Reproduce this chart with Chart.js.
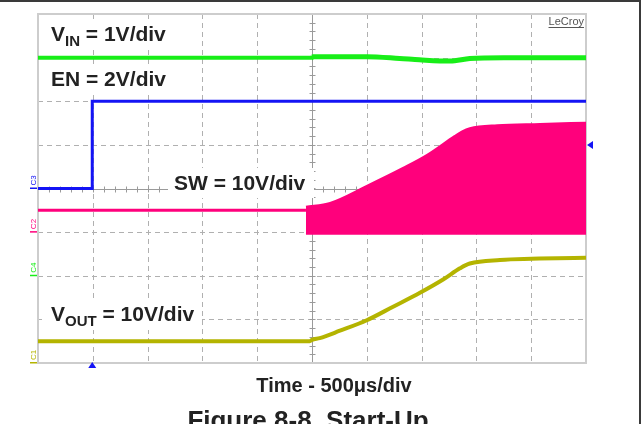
<!DOCTYPE html>
<html>
<head>
<meta charset="utf-8">
<script src="https://cdn.jsdelivr.net/npm/chart.js@4.4.1/dist/chart.umd.min.js"></script>
<style>
  body { margin: 0; background: #fff; }
  canvas { display: block; }
</style>
</head>
<body>
<canvas id="scope" width="642" height="424"></canvas>
<script>
// time in us (500us/div), amplitude in screen divisions (0 = bottom, 8 = top)
const vinT  = [0, 2500, 2510, 3000, 3300, 3480, 3760, 3940, 4250, 5000]
const vinV  = [7.0, 7.0, 7.02, 7.02, 6.98, 6.95, 6.92, 6.98, 7.0, 7.0]
const enT   = [0, 495, 495, 5000]
const enV   = [4.0, 4.0, 6.0, 6.0]
const swIdleT = [0, 2445]
const swIdleV = [3.5, 3.5]
const swT   = [2445, 2665, 3000, 3330, 3550, 3800, 3870, 3940, 4190, 4580, 5000]
const swTop = [3.58, 3.67, 4.06, 4.47, 4.77, 5.20, 5.31, 5.38, 5.45, 5.48, 5.51]
const swLow = [2.96, 2.96, 2.96, 2.96, 2.96, 2.96, 2.96, 2.96, 2.96, 2.96, 2.96]
const voutT = [0, 2480, 2500, 2570, 2755, 3000, 3240, 3485, 3700, 3850, 3940, 4215, 5000]
const voutV = [0.5, 0.5, 0.53, 0.57, 0.74, 0.98, 1.29, 1.61, 1.92, 2.17, 2.28, 2.36, 2.41]

const xTicks = [0, 500, 1000, 1500, 2000, 2500, 3000, 3500, 4000, 4500, 5000]
const yTicks = [0, 1, 2, 3, 4, 5, 6, 7, 8]

const pts = (t, v) => t.map((x, i) => ({x: x, y: v[i]}))
const trace = (data, col, w, extra) => Object.assign({
  data: data, borderColor: col, backgroundColor: col, borderWidth: w,
  pointRadius: 0, tension: 0, fill: false
}, extra || {})

const green = "#18ee18", blue = "#1414f5", pink = "#ff007c", olive = "#b4b400"
const bold = '"Liberation Sans", Arial, sans-serif'

const label = (ctx, x, y, main, sub, rest, size, box) => {
  ctx.save()
  if (box) { ctx.fillStyle = "#fff"; ctx.fillRect(box[0], box[1], box[2], box[3]) }
  ctx.fillStyle = "#222"
  ctx.textBaseline = "alphabetic"
  ctx.font = "bold " + size + "px " + bold
  ctx.fillText(main, x, y)
  let xx = x + ctx.measureText(main).width
  if (sub) {
    ctx.font = "bold " + Math.round(size * 0.7) + "px " + bold
    ctx.fillText(sub, xx, y + 5)
    xx += ctx.measureText(sub).width
    ctx.font = "bold " + size + "px " + bold
  }
  ctx.fillText(rest, xx, y)
  ctx.restore()
}

const scopeGrid = {
  id: "scopeGrid",
  beforeDatasetsDraw(chart) {
    const {ctx, chartArea: {left, right, top, bottom}, scales: {x, y}} = chart
    ctx.save()
    ctx.strokeStyle = "#b0b0b0"
    ctx.lineWidth = 1
    ctx.setLineDash([5, 4])
    xTicks.slice(1, -1).forEach(t => {
      const px = Math.round(x.getPixelForValue(t)) + 0.5
      ctx.beginPath(); ctx.moveTo(px, top); ctx.lineTo(px, bottom); ctx.stroke()
    })
    yTicks.slice(1, -1).forEach(t => {
      const py = Math.round(y.getPixelForValue(t)) + 0.5
      ctx.beginPath(); ctx.moveTo(left, py); ctx.lineTo(right, py); ctx.stroke()
    })
    ctx.setLineDash([])
    // centre axes with minor ticks
    ctx.strokeStyle = "#9a9a9a"
    const cx = Math.round(x.getPixelForValue(2500)) + 0.5
    const cy = Math.round(y.getPixelForValue(4)) + 0.5
    ctx.beginPath(); ctx.moveTo(cx, top); ctx.lineTo(cx, bottom); ctx.stroke()
    ctx.beginPath(); ctx.moveTo(left, cy); ctx.lineTo(right, cy); ctx.stroke()
    for (let t = 0; t <= 5000; t += 100) {
      const px = Math.round(x.getPixelForValue(t)) + 0.5
      ctx.beginPath(); ctx.moveTo(px, cy - 3); ctx.lineTo(px, cy + 3); ctx.stroke()
    }
    for (let v = 0; v <= 8; v += 0.2) {
      const py = Math.round(y.getPixelForValue(v)) + 0.5
      ctx.beginPath(); ctx.moveTo(cx - 3, py); ctx.lineTo(cx + 3, py); ctx.stroke()
    }
    // plot border
    ctx.strokeStyle = "#cdcdcd"
    ctx.lineWidth = 2
    ctx.strokeRect(left, top, right - left, bottom - top)

    label(ctx, 51, 41, "V", "IN", " = 1V/div", 21, [44, 20, 128, 28])
    label(ctx, 51, 86, "EN = 2V/div", "", "", 21, [44, 66, 126, 26])
    label(ctx, 174, 190, "SW = 10V/div", "", "", 21, [168, 168, 146, 30])
    label(ctx, 51, 321, "V", "OUT", " = 10V/div", 21, [42, 298, 160, 32])

    ctx.fillStyle = "#555"
    ctx.font = "11px " + bold
    ctx.textAlign = "right"
    ctx.fillText("LeCroy", right - 2, top + 11)
    ctx.fillRect(right - 2 - ctx.measureText("LeCroy").width, top + 13, ctx.measureText("LeCroy").width, 1)
    ctx.restore()
  },
  afterDraw(chart) {
    const {ctx, chartArea: {left, right, top, bottom}, scales: {x, y}} = chart
    ctx.save()
    // channel markers on the left edge
    const marks = [["C3", blue, 4], ["C2", pink, 3.0], ["C4", green, 2], ["C1", olive, 0]]
    ctx.font = "8px " + bold
    marks.forEach(m => {
      const py = y.getPixelForValue(m[2])
      ctx.fillStyle = m[1]
      ctx.fillRect(left - 8, py - 1, 7, 1.5)
      ctx.save()
      ctx.translate(left - 2, py - 3)
      ctx.rotate(-Math.PI / 2)
      ctx.textAlign = "left"
      ctx.fillText(m[0], 0, 0)
      ctx.restore()
    })
    // trigger markers
    ctx.fillStyle = blue
    const tx = x.getPixelForValue(495)
    ctx.beginPath(); ctx.moveTo(tx, bottom - 1); ctx.lineTo(tx - 4, bottom + 5); ctx.lineTo(tx + 4, bottom + 5); ctx.fill()
    const ty = y.getPixelForValue(5.0)
    ctx.beginPath(); ctx.moveTo(right + 1, ty); ctx.lineTo(right + 7, ty - 4); ctx.lineTo(right + 7, ty + 4); ctx.fill()

    // captions
    ctx.fillStyle = "#222"
    ctx.textAlign = "center"
    ctx.font = "bold 20px " + bold
    ctx.fillText("Time - 500\u03bcs/div", 334, 392)
    ctx.font = "bold 26px " + bold
    ctx.fillText("Figure 8-8. Start-Up", 308, 429)

    // outer frame
    ctx.fillStyle = "#3a3a3a"
    ctx.fillRect(0, 0, 641, 2)
    ctx.fillRect(639, 0, 2, 424)
    ctx.restore()
  }
}

new Chart(document.getElementById("scope"), {
  type: "line",
  data: {
    datasets: [
      trace(pts(vinT, vinV), green, 4, {
        cubicInterpolationMode: "monotone",
        segment: {borderWidth: c => c.p0.parsed.x >= 2500 ? 5 : 4}
      }),
      trace(pts(enT, enV), blue, 3),
      trace(pts(swIdleT, swIdleV), pink, 3),
      trace(pts(swT, swTop), pink, 2, {fill: "+1", cubicInterpolationMode: "monotone"}),
      trace(pts(swT, swLow), pink, 2),
      trace(pts(voutT, voutV), olive, 4, {cubicInterpolationMode: "monotone"})
    ]
  },
  options: {
    responsive: false,
    animation: false,
    layout: {padding: {left: 38, top: 14, right: 56, bottom: 61}},
    plugins: {legend: {display: false}, tooltip: {enabled: false}},
    scales: {
      x: {type: "linear", min: 0, max: 5000, display: false},
      y: {type: "linear", min: 0, max: 8, display: false}
    }
  },
  plugins: [scopeGrid]
})
</script>
</body>
</html>
